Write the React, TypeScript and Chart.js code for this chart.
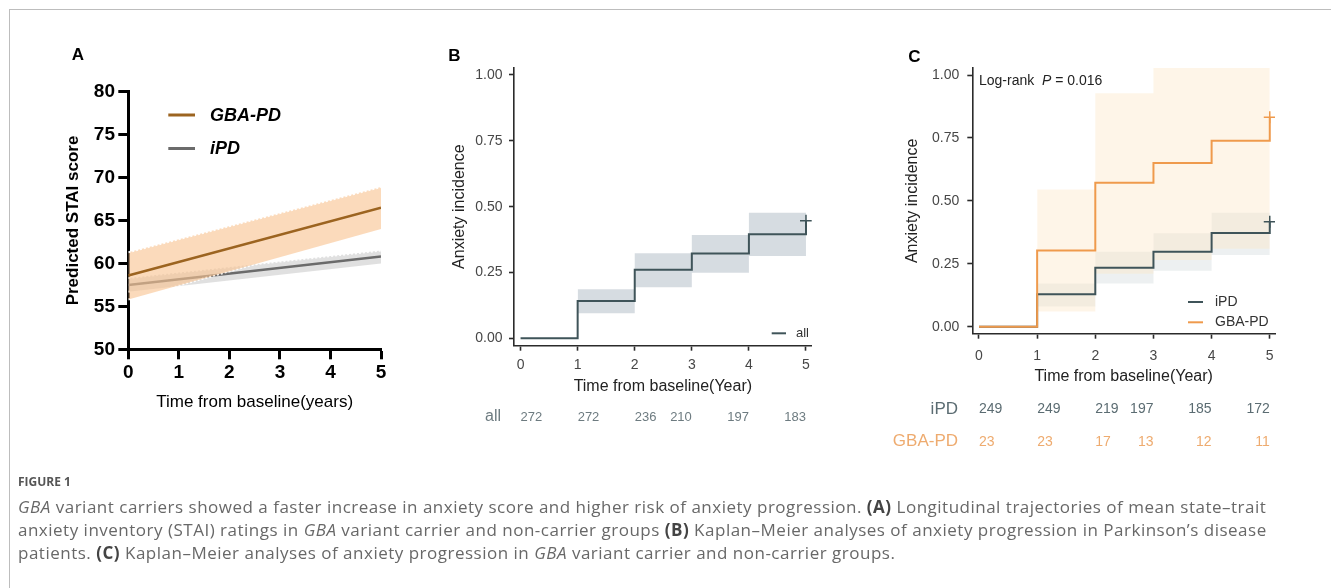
import React, { useEffect, useRef } from 'react';
import { Chart, registerables } from 'chart.js';
Chart.register(...registerables);

const CW = 1331;
const CH = 588;
const SANS = '"Liberation Sans", Arial, Helvetica, sans-serif';

// ---------- Panel A data ----------
const aYears = [0, 5];
const aGbaMean = [58.6, 66.5];
const aGbaUpper = [61.3, 68.9];
const aGbaLower = [55.8, 64.0];
const aIpdMean = [57.5, 60.8];
const aIpdUpper = [58.3, 61.5];
const aIpdLower = [56.7, 60.0];
const aXTicks = [0, 1, 2, 3, 4, 5];
const aYTicks = [50, 55, 60, 65, 70, 75, 80];

// ---------- Panel B / C data ----------
const kmTimes = [0, 1, 2, 3, 4, 5];
const kmYTicks = [0, 0.25, 0.5, 0.75, 1];
const allIncidence = [0, 0.142, 0.26, 0.322, 0.395, 0.446];
const ciTimes = [1, 2, 3, 4, 5];
const allUpper = [0.186, 0.323, 0.392, 0.477, 0.477];
const allLower = [0.095, 0.194, 0.249, 0.313, 0.313];
const riskAll = [272, 272, 236, 210, 197, 183];

const ipdIncidence = [0, 0.129, 0.234, 0.298, 0.372, 0.417];
const gbaIncidence = [0, 0.303, 0.572, 0.65, 0.739, 0.832];
const ipdUpper = [0.172, 0.298, 0.371, 0.453, 0.453];
const ipdLower = [0.08, 0.172, 0.222, 0.285, 0.285];
const gbaUpper = [0.545, 0.928, 1.03, 1.03, 1.03];
const gbaLower = [0.06, 0.21, 0.265, 0.31, 0.31];
const riskIpd = [249, 249, 219, 197, 185, 172];
const riskGba = [23, 23, 17, 13, 12, 11];

const KM_DARK = '#3f5459';
const KM_ORANGE = '#ef9a4c';

type Area = { left: number; top: number; right: number; bottom: number };

const pts = (xs: number[], ys: number[]) => xs.map((x, i) => ({ x, y: ys[i] }));

function fixedLayout(area: Area, yW: number, xH: number) {
  return {
    padding: {
      left: area.left - yW,
      top: area.top,
      right: CW - area.right,
      bottom: CH - area.bottom - xH,
    },
  };
}

function ChartCanvas({ make }: { make: (c: HTMLCanvasElement) => Chart }) {
  const ref = useRef<HTMLCanvasElement>(null);
  useEffect(() => {
    const chart = make(ref.current as HTMLCanvasElement);
    return () => chart.destroy();
  }, []);
  return (
    <canvas
      ref={ref}
      width={CW}
      height={CH}
      style={{ position: 'absolute', left: 0, top: 0, width: CW, height: CH, pointerEvents: 'none' }}
    />
  );
}

// ---------------- Panel A ----------------
function makeA(canvas: HTMLCanvasElement) {
  const area: Area = { left: 128.3, top: 91.7, right: 381, bottom: 349.3 };
  const yW = 68.3;
  const xH = 62.9;
  const whiteDash = 'rgba(255,255,255,0.95)';
  const annot = {
    id: 'annotA',
    afterDraw(chart: any) {
      const ctx = chart.ctx;
      ctx.save();
      ctx.fillStyle = '#000';
      ctx.font = `bold 17px ${SANS}`;
      ctx.textAlign = 'left';
      ctx.textBaseline = 'alphabetic';
      ctx.fillText('A', 71.7, 60);
      const items = [
        { label: 'GBA-PD', color: '#9c6420', y: 115 },
        { label: 'iPD', color: '#6b6b6b', y: 148.5 },
      ];
      items.forEach((it) => {
        ctx.strokeStyle = it.color;
        ctx.lineWidth = 3;
        ctx.beginPath();
        ctx.moveTo(168.3, it.y);
        ctx.lineTo(195, it.y);
        ctx.stroke();
        ctx.fillStyle = '#000';
        ctx.font = `italic bold 18px ${SANS}`;
        ctx.textBaseline = 'middle';
        ctx.fillText(it.label, 210, it.y + 1);
      });
      ctx.restore();
    },
  };
  return new Chart(canvas, {
    type: 'line',
    data: {
      datasets: [
        { data: pts(aYears, aGbaMean), borderColor: '#9c6420', borderWidth: 2.5, pointRadius: 0, fill: false },
        {
          data: pts(aYears, aGbaUpper),
          borderColor: whiteDash,
          borderWidth: 2,
          borderDash: [2, 2],
          pointRadius: 0,
          fill: '+1',
          backgroundColor: 'rgba(249,196,146,0.62)',
        },
        { data: pts(aYears, aGbaLower), borderColor: whiteDash, borderWidth: 2, borderDash: [2, 2], pointRadius: 0, fill: false },
        { data: pts(aYears, aIpdMean), borderColor: '#6b6b6b', borderWidth: 2.5, pointRadius: 0, fill: false },
        {
          data: pts(aYears, aIpdUpper),
          borderColor: whiteDash,
          borderWidth: 2,
          borderDash: [2, 2],
          pointRadius: 0,
          fill: '+1',
          backgroundColor: 'rgba(214,214,214,0.75)',
        },
        { data: pts(aYears, aIpdLower), borderColor: whiteDash, borderWidth: 2, borderDash: [2, 2], pointRadius: 0, fill: false },
      ],
    },
    options: {
      animation: false,
      responsive: false,
      events: [],
      layout: fixedLayout(area, yW, xH),
      plugins: { legend: { display: false }, tooltip: { enabled: false } },
      scales: {
        x: {
          type: 'linear',
          min: 0,
          max: 5,
          afterBuildTicks: (s: any) => {
            s.ticks = aXTicks.map((v) => ({ value: v }));
          },
          afterFit: (s: any) => {
            s.height = xH;
          },
          grid: { drawOnChartArea: false, drawTicks: true, tickLength: 10, tickWidth: 3, tickColor: '#000' },
          border: { display: true, color: '#000', width: 3 },
          ticks: { color: '#000', font: { family: SANS, size: 19, weight: 'bold' }, padding: 2.3, maxRotation: 0, autoSkip: false },
          title: { display: true, text: 'Time from baseline(years)', color: '#000', font: { family: SANS, size: 17 }, padding: 0 },
        },
        y: {
          type: 'linear',
          min: 50,
          max: 80,
          afterBuildTicks: (s: any) => {
            s.ticks = aYTicks.map((v) => ({ value: v }));
          },
          afterFit: (s: any) => {
            s.width = yW;
          },
          grid: { drawOnChartArea: false, drawTicks: true, tickLength: 10, tickWidth: 3, tickColor: '#000' },
          border: { display: true, color: '#000', width: 3 },
          ticks: { color: '#000', font: { family: SANS, size: 19, weight: 'bold' }, padding: 3.3 },
          title: {
            display: true,
            text: 'Predicted STAI score',
            color: '#000',
            font: { family: SANS, size: 17, weight: 'bold' },
            padding: { top: 2.8, bottom: 0 },
          },
        },
      },
    },
    plugins: [annot],
  } as any);
}

// ---------------- KM scales helper ----------------
function kmScales(opts: { xMax: number; yW: number; xH: number; xPad: number; yPad: number }) {
  const axisColor = '#2b2b2b';
  const tickFont = { family: SANS, size: 14 };
  return {
    x: {
      type: 'linear',
      min: -0.115,
      max: opts.xMax,
      afterBuildTicks: (s: any) => {
        s.ticks = kmTimes.map((v) => ({ value: v }));
      },
      afterFit: (s: any) => {
        s.height = opts.xH;
      },
      grid: { drawOnChartArea: false, drawTicks: true, tickLength: 5, tickWidth: 1.6, tickColor: axisColor },
      border: { display: true, color: axisColor, width: 1.6 },
      ticks: { color: '#474747', font: tickFont, padding: opts.xPad, maxRotation: 0, autoSkip: false, callback: (v: any) => String(v) },
      title: { display: true, text: 'Time from baseline(Year)', color: '#222', font: { family: SANS, size: 16 }, padding: 0 },
    },
    y: {
      type: 'linear',
      min: -0.028,
      max: 1.028,
      afterBuildTicks: (s: any) => {
        s.ticks = kmYTicks.map((v) => ({ value: v }));
      },
      afterFit: (s: any) => {
        s.width = opts.yW;
      },
      grid: { drawOnChartArea: false, drawTicks: true, tickLength: 5, tickWidth: 1.6, tickColor: axisColor },
      border: { display: true, color: axisColor, width: 1.6 },
      ticks: { color: '#474747', font: tickFont, padding: opts.yPad, callback: (v: any) => Number(v).toFixed(2) },
      title: { display: true, text: 'Anxiety incidence', color: '#222', font: { family: SANS, size: 16 }, padding: { top: 0, bottom: 0 } },
    },
  };
}

function drawRiskRow(ctx: any, xScale: any, values: number[], y: number, color: string, size: number) {
  ctx.fillStyle = color;
  ctx.font = `${size}px ${SANS}`;
  ctx.textBaseline = 'middle';
  values.forEach((v, i) => {
    ctx.textAlign = i < 3 ? 'left' : 'right';
    ctx.fillText(String(v), xScale.getPixelForValue(kmTimes[i]), y);
  });
}

const censorRadius = (n: number) => (c: any) => (c.dataIndex === n - 1 ? 6 : 0);

// ---------------- Panel B ----------------
function makeB(canvas: HTMLCanvasElement) {
  const area: Area = { left: 514, top: 67.6, right: 811.7, bottom: 345.7 };
  const yW = 63.6;
  const xH = 50.9;
  const annot = {
    id: 'annotB',
    afterDraw(chart: any) {
      const ctx = chart.ctx;
      ctx.save();
      ctx.fillStyle = '#000';
      ctx.font = `bold 17px ${SANS}`;
      ctx.textAlign = 'left';
      ctx.textBaseline = 'alphabetic';
      ctx.fillText('B', 448.3, 61);
      ctx.strokeStyle = KM_DARK;
      ctx.lineWidth = 2;
      ctx.beginPath();
      ctx.moveTo(771.7, 333.3);
      ctx.lineTo(786, 333.3);
      ctx.stroke();
      ctx.fillStyle = '#333';
      ctx.font = `13px ${SANS}`;
      ctx.textBaseline = 'middle';
      ctx.fillText('all', 796, 333);
      ctx.textAlign = 'right';
      ctx.fillStyle = '#6d7b80';
      ctx.font = `16px ${SANS}`;
      ctx.fillText('all', 501, 417);
      drawRiskRow(ctx, chart.scales.x, riskAll, 417, '#6d7b80', 13);
      ctx.restore();
    },
  };
  return new Chart(canvas, {
    type: 'line',
    data: {
      datasets: [
        {
          data: pts(kmTimes, allIncidence),
          stepped: 'before',
          borderColor: KM_DARK,
          borderWidth: 2,
          pointStyle: 'cross',
          pointRadius: censorRadius(kmTimes.length),
          pointBorderColor: KM_DARK,
          pointBorderWidth: 1.5,
          fill: false,
        },
        {
          data: pts(ciTimes, allUpper),
          stepped: 'before',
          borderWidth: 0,
          borderColor: 'rgba(0,0,0,0)',
          pointRadius: 0,
          fill: '+1',
          backgroundColor: 'rgba(200,208,215,0.75)',
        },
        { data: pts(ciTimes, allLower), stepped: 'before', borderWidth: 0, borderColor: 'rgba(0,0,0,0)', pointRadius: 0, fill: false },
      ],
    },
    options: {
      animation: false,
      responsive: false,
      events: [],
      layout: fixedLayout(area, yW, xH),
      plugins: { legend: { display: false }, tooltip: { enabled: false } },
      scales: kmScales({ xMax: 5.1, yW, xH, xPad: 5.6, yPad: 6.5 }),
    },
    plugins: [annot],
  } as any);
}

// ---------------- Panel C ----------------
function makeC(canvas: HTMLCanvasElement) {
  const area: Area = { left: 972.3, top: 68, right: 1275, bottom: 333.7 };
  const yW = 68.9;
  const xH = 52.9;
  const annot = {
    id: 'annotC',
    afterDraw(chart: any) {
      const ctx = chart.ctx;
      ctx.save();
      ctx.fillStyle = '#000';
      ctx.font = `bold 17px ${SANS}`;
      ctx.textAlign = 'left';
      ctx.textBaseline = 'alphabetic';
      ctx.fillText('C', 908.3, 61.5);
      ctx.textBaseline = 'middle';
      ctx.fillStyle = '#222';
      ctx.font = `14px ${SANS}`;
      let x = 979;
      const t1 = 'Log-rank  ';
      ctx.fillText(t1, x, 81);
      x += ctx.measureText(t1).width;
      ctx.font = `italic 14px ${SANS}`;
      ctx.fillText('P', x, 81);
      x += ctx.measureText('P').width;
      ctx.font = `14px ${SANS}`;
      ctx.fillText(' = 0.016', x, 81);
      const items = [
        { label: 'iPD', color: KM_DARK, y: 302 },
        { label: 'GBA-PD', color: KM_ORANGE, y: 322.3 },
      ];
      items.forEach((it) => {
        ctx.strokeStyle = it.color;
        ctx.lineWidth = 2;
        ctx.beginPath();
        ctx.moveTo(1188, it.y);
        ctx.lineTo(1203, it.y);
        ctx.stroke();
        ctx.fillStyle = '#333';
        ctx.font = `14px ${SANS}`;
        ctx.fillText(it.label, 1215, it.y);
      });
      ctx.textAlign = 'right';
      ctx.font = `17px ${SANS}`;
      ctx.fillStyle = '#5b6c72';
      ctx.fillText('iPD', 958, 409.3);
      ctx.fillStyle = '#eeab6f';
      ctx.fillText('GBA-PD', 958, 441.7);
      drawRiskRow(ctx, chart.scales.x, riskIpd, 409.3, '#5b6c72', 14);
      drawRiskRow(ctx, chart.scales.x, riskGba, 441.7, '#eeab6f', 14);
      ctx.restore();
    },
  };
  const band = (ys: number[], fill: any, bg?: string) => ({
    data: pts(ciTimes, ys),
    stepped: 'before',
    borderWidth: 0,
    borderColor: 'rgba(0,0,0,0)',
    pointRadius: 0,
    fill,
    backgroundColor: bg,
  });
  return new Chart(canvas, {
    type: 'line',
    data: {
      datasets: [
        {
          data: pts(kmTimes, gbaIncidence),
          stepped: 'before',
          borderColor: KM_ORANGE,
          borderWidth: 2,
          pointStyle: 'cross',
          pointRadius: censorRadius(kmTimes.length),
          pointBorderColor: KM_ORANGE,
          pointBorderWidth: 1.5,
          fill: false,
        },
        {
          data: pts(kmTimes, ipdIncidence),
          stepped: 'before',
          borderColor: KM_DARK,
          borderWidth: 2,
          pointStyle: 'cross',
          pointRadius: censorRadius(kmTimes.length),
          pointBorderColor: KM_DARK,
          pointBorderWidth: 1.5,
          fill: false,
        },
        band(gbaUpper, '+1', 'rgba(253,232,200,0.42)'),
        band(gbaLower, false),
        band(ipdUpper, '+1', 'rgba(110,128,138,0.12)'),
        band(ipdLower, false),
      ],
    },
    options: {
      animation: false,
      responsive: false,
      events: [],
      layout: fixedLayout(area, yW, xH),
      plugins: { legend: { display: false }, tooltip: { enabled: false } },
      scales: kmScales({ xMax: 5.09, yW, xH, xPad: 8.6, yPad: 8 }),
    },
    plugins: [annot],
  } as any);
}

const capStyle: React.CSSProperties = {
  position: 'absolute',
  left: 18,
  whiteSpace: 'nowrap',
  fontFamily: '"Open Sans", "Noto Sans", sans-serif',
  fontSize: 17,
  letterSpacing: '0.5px',
  lineHeight: '23px',
  color: '#686868',
};
const B = ({ children }: { children: React.ReactNode }) => (
  <span style={{ fontWeight: 700, color: '#444' }}>{children}</span>
);

export default function App() {
  return (
    <div style={{ position: 'absolute', left: 0, top: 0, width: CW, height: CH, background: '#fff', overflow: 'hidden' }}>
      <div
        style={{
          position: 'absolute',
          left: 9,
          top: 9,
          width: CW,
          height: CH,
          borderLeft: '1.5px solid #bdbdbd',
          borderTop: '1.5px solid #bdbdbd',
        }}
      />
      <ChartCanvas make={makeA} />
      <ChartCanvas make={makeB} />
      <ChartCanvas make={makeC} />
      <div
        style={{
          position: 'absolute',
          left: 18,
          top: 474,
          fontFamily: '"Open Sans", "Noto Sans", sans-serif',
          fontSize: 12,
          lineHeight: '16px',
          fontWeight: 700,
          color: '#555',
        }}
      >
        FIGURE 1
      </div>
      <div style={{ ...capStyle, top: 494.5 }}>
        <i>GBA</i> variant carriers showed a faster increase in anxiety score and higher risk of anxiety progression. <B>(A)</B> Longitudinal trajectories of mean state–trait
      </div>
      <div style={{ ...capStyle, top: 517.5 }}>
        anxiety inventory (STAI) ratings in <i>GBA</i> variant carrier and non-carrier groups <B>(B)</B> Kaplan–Meier analyses of anxiety progression in Parkinson’s disease
      </div>
      <div style={{ ...capStyle, top: 540.5 }}>
        patients. <B>(C)</B> Kaplan–Meier analyses of anxiety progression in <i>GBA</i> variant carrier and non-carrier groups.
      </div>
    </div>
  );
}
